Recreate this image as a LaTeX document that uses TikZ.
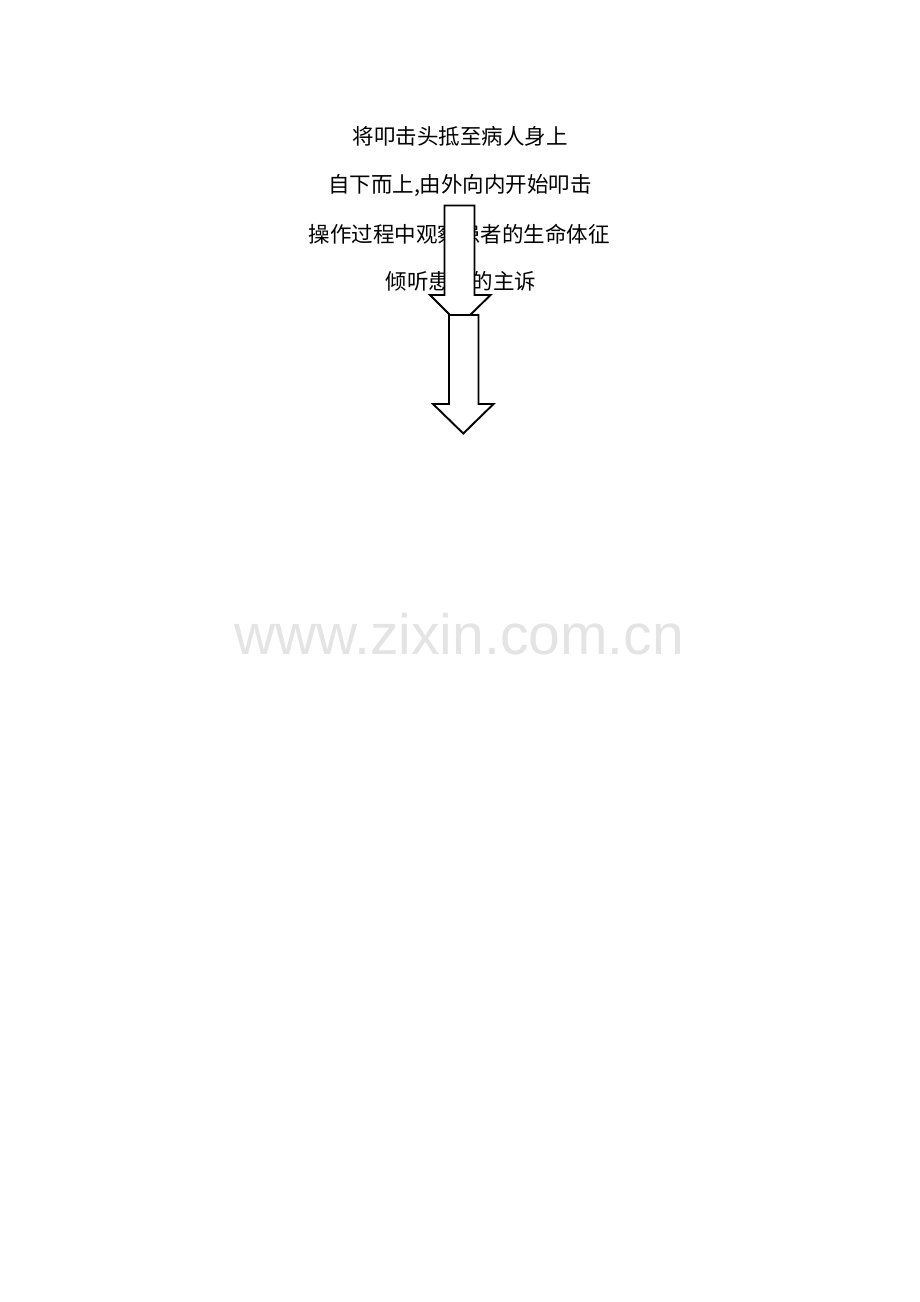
\documentclass[tikz,border=0pt]{standalone}
\usepackage{fontspec}
\setmainfont{Liberation Serif}
\newfontfamily\cjk{Noto Sans CJK SC}
\newfontfamily\wmfont{Liberation Sans}
\usetikzlibrary{positioning}
\definecolor{wmgray}{RGB}{228,228,228}

\begin{document}
\begin{tikzpicture}[
        x=1pt, y=-1pt,
        step text/.style={inner sep=0pt, font=\cjk\fontsize{21.5}{26}\selectfont},
        blockarrow/.style={draw=black, fill=white, line width=1.9pt, line join=miter}
    ]
        \useasboundingbox (0,0) rectangle (920,1302);
        % text lines
        \node[step text] (t1) at (460,136.5) {将叩击头抵至病人身上};
        \node[step text] (t2) at (460,185) {自下而上,由外向内开始叩击};
        \node[step text] (t3) at (459,234.5) {操作过程中观察患者的生命体征};
        \node[step text] (t4) at (461,281.5) {倾听患者的主诉};
        % block arrows
        \draw[blockarrow] (444.5,205.5) -- (474.5,205.5) -- (474.5,295) -- (490.5,295)
            -- (460,325) -- (430,295) -- (444.5,295) -- cycle;
        \draw[blockarrow] (449,315) -- (478.5,315) -- (478.5,404) -- (493.5,404)
            -- (463.3,433.5) -- (433,404) -- (449,404) -- cycle;
        % watermark
        \node[inner sep=0pt, text=wmgray, font=\wmfont\fontsize{57}{60}\selectfont] (wm) at (459,634) {www.zixin.com.cn};
    \end{tikzpicture}
\end{document}
